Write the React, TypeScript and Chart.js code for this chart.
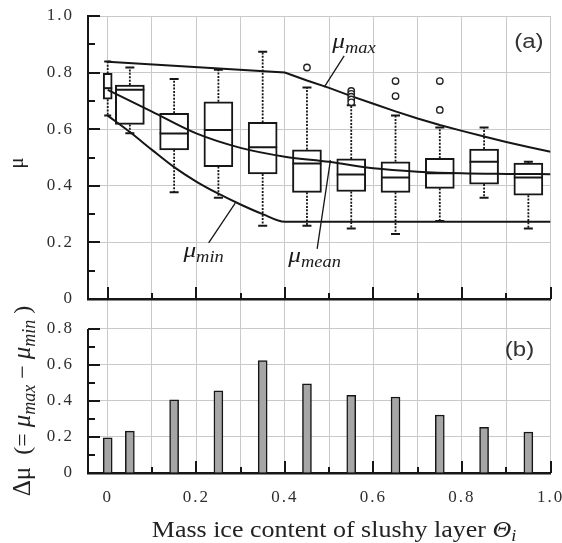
import React, { useEffect, useRef } from 'react';
import { Chart, registerables } from 'chart.js';
Chart.register(...registerables);

// ---------- data ----------
const boxX = [0, 0.05, 0.15, 0.25, 0.35, 0.45, 0.55, 0.65, 0.75, 0.85, 0.95];
const boxQ1 = [0.706, 0.617, 0.527, 0.468, 0.442, 0.377, 0.380, 0.377, 0.391, 0.406, 0.367];
const boxQ3 = [0.797, 0.756, 0.656, 0.697, 0.624, 0.527, 0.495, 0.485, 0.497, 0.530, 0.480];
const boxMedian = [0.745, 0.739, 0.585, 0.597, 0.536, 0.479, 0.440, 0.429, 0.444, 0.485, 0.429];
const whiskerLow = [0.648, 0.586, 0.377, 0.358, 0.259, 0.259, 0.249, 0.230, 0.276, 0.358, 0.249];
const whiskerHigh = [0.839, 0.818, 0.777, 0.810, 0.874, 0.747, 0.685, 0.648, 0.606, 0.606, 0.485];
const outlierX = [0.45, 0.55, 0.55, 0.55, 0.55, 0.55, 0.65, 0.65, 0.75, 0.75];
const outlierY = [0.818, 0.735, 0.725, 0.715, 0.705, 0.695, 0.770, 0.717, 0.770, 0.668];
const deltaMu = [0.196, 0.233, 0.406, 0.457, 0.624, 0.496, 0.431, 0.422, 0.322, 0.254, 0.228];

const muMaxX = [0, 0.4, 0.45, 0.5, 0.55, 0.6, 0.65, 0.7, 0.75, 0.8, 0.85, 0.9, 0.95, 1.0];
const muMaxY = [0.838, 0.800, 0.772, 0.746, 0.717, 0.690, 0.663, 0.638, 0.615, 0.594, 0.574, 0.555, 0.537, 0.520];
const muMinX = [0, 0.05, 0.1, 0.15, 0.2, 0.25, 0.3, 0.35, 0.4, 1.0];
const muMinY = [0.648, 0.590, 0.527, 0.466, 0.415, 0.372, 0.334, 0.300, 0.273, 0.273];
const muMeanX = [0, 0.1, 0.2, 0.3, 0.4, 0.5, 0.6, 0.7, 0.8, 0.9, 1.0];
const muMeanY = [0.739, 0.662, 0.585, 0.534, 0.503, 0.485, 0.462, 0.450, 0.444, 0.442, 0.441];

const xGridTicks = [0, 0.1, 0.2, 0.3, 0.4, 0.5, 0.6, 0.7, 0.8, 0.9, 1.0];
const topYTicks = [0, 0.2, 0.4, 0.6, 0.8, 1.0];
const topYMinorTicks = [0.1, 0.3, 0.5, 0.7, 0.9];
const botYTicks = [0, 0.2, 0.4, 0.6, 0.8];
const botYMinorTicks = [0.1, 0.3, 0.5, 0.7];

// ---------- style ----------
const SERIF = "'Liberation Serif', 'Times New Roman', serif";
const SANS = "'Liberation Sans', Arial, sans-serif";
const GRID = '#c9c9c9';
const INK = '#161616';
const LABEL = '#2e2e2e';
const X_MIN = -0.0445;

type Seg = { t: string; font: string; dy?: number };

function drawRich(ctx: CanvasRenderingContext2D, segs: Seg[], x: number, y: number,
  opts: { sx?: number; align?: 'left' | 'center'; rotate?: number; color?: string; baseline?: CanvasTextBaseline } = {}) {
  ctx.save();
  ctx.translate(x, y);
  if (opts.rotate) ctx.rotate(opts.rotate);
  ctx.scale(opts.sx ?? 1, 1);
  (ctx as any).letterSpacing = '0px';
  ctx.fillStyle = opts.color ?? '#222';
  ctx.textBaseline = opts.baseline ?? 'alphabetic';
  ctx.textAlign = 'left';
  const widths = segs.map(s => { ctx.font = s.font; return ctx.measureText(s.t).width; });
  const total = widths.reduce((a, b) => a + b, 0);
  let cx = opts.align === 'center' ? -total / 2 : 0;
  segs.forEach((s, i) => { ctx.font = s.font; ctx.fillText(s.t, cx, s.dy ?? 0); cx += widths[i]; });
  ctx.restore();
}

const muLabel = (sub: string): Seg[] => [
  { t: 'μ', font: `italic 22px ${SERIF}` },
  { t: sub, font: `italic 16px ${SERIF}`, dy: 5 },
];

const annotations = [
  { segs: muLabel('max'), x: 0.507, y: 0.887, l: [0.534, 0.859, 0.489, 0.749] },
  { segs: muLabel('min'), x: 0.171, y: 0.148, l: [0.228, 0.198, 0.288, 0.339] },
  { segs: muLabel('mean'), x: 0.408, y: 0.131, l: [0.473, 0.177, 0.503, 0.491] },
];

const fmt = (v: number) => (v === 0 ? '0' : v.toFixed(1));

function drawInwardTicks(chart: any, yMajor: number[], yMinor: number[]) {
  const { ctx, chartArea } = chart;
  const xs = chart.scales.x, ys = chart.scales.y;
  ctx.save();
  ctx.strokeStyle = INK;
  ctx.lineWidth = 2;
  ctx.beginPath();
  xGridTicks.forEach((v, i) => {
    const px = Math.round(xs.getPixelForValue(v));
    const len = i % 2 === 0 ? 12 : 6;
    ctx.moveTo(px, chartArea.bottom);
    ctx.lineTo(px, chartArea.bottom - len);
  });
  yMajor.forEach(v => {
    const py = Math.round(ys.getPixelForValue(v));
    ctx.moveTo(chartArea.left, py);
    ctx.lineTo(chartArea.left + 12, py);
  });
  yMinor.forEach(v => {
    const py = Math.round(ys.getPixelForValue(v));
    ctx.moveTo(chartArea.left, py);
    ctx.lineTo(chartArea.left + 7, py);
  });
  ctx.stroke();
  ctx.restore();
}

const boxWidth = (i: number) => (i === 0 ? 9 : 29);

const topPlugin = {
  id: 'topPanel',
  beforeDraw(chart: any) { chart.ctx.letterSpacing = '2px'; },
  beforeDatasetsDraw(chart: any) {
    const { ctx, chartArea } = chart;
    const xs = chart.scales.x, ys = chart.scales.y;
    ctx.save();
    ctx.beginPath();
    ctx.rect(chartArea.left, chartArea.top, chartArea.right - chartArea.left, chartArea.bottom - chartArea.top);
    ctx.clip();
    ctx.strokeStyle = INK;
    boxX.forEach((x, i) => {
      const px = xs.getPixelForValue(x);
      const capW = i === 0 ? 7 : 9;
      ctx.lineWidth = 1.8;
      ctx.setLineDash([2, 1.4]);
      ctx.beginPath();
      ctx.moveTo(px, ys.getPixelForValue(boxQ3[i]));
      ctx.lineTo(px, ys.getPixelForValue(whiskerHigh[i]));
      ctx.moveTo(px, ys.getPixelForValue(boxQ1[i]));
      ctx.lineTo(px, ys.getPixelForValue(whiskerLow[i]));
      ctx.stroke();
      ctx.setLineDash([]);
      ctx.lineWidth = 2;
      ctx.beginPath();
      [whiskerHigh[i], whiskerLow[i]].forEach(w => {
        const py = ys.getPixelForValue(w);
        ctx.moveTo(px - capW / 2, py);
        ctx.lineTo(px + capW / 2, py);
      });
      ctx.stroke();
    });
    ctx.restore();
  },
  afterDatasetDraw(chart: any, args: any) {
    if (args.index > 1) return;
    const { ctx } = chart;
    const xs = chart.scales.x, ys = chart.scales.y;
    const idxs = args.index === 0 ? [0] : boxX.map((_, i) => i).slice(1);
    ctx.save();
    ctx.strokeStyle = INK;
    ctx.lineWidth = 2;
    ctx.beginPath();
    idxs.forEach(i => {
      const px = xs.getPixelForValue(boxX[i]);
      const py = ys.getPixelForValue(boxMedian[i]);
      const w = boxWidth(i);
      ctx.moveTo(px - w / 2, py);
      ctx.lineTo(px + w / 2, py);
    });
    ctx.stroke();
    ctx.restore();
  },
  afterDraw(chart: any) {
    const { ctx } = chart;
    ctx.letterSpacing = '0px';
    drawInwardTicks(chart, topYTicks, topYMinorTicks);
    const xs = chart.scales.x, ys = chart.scales.y;
    ctx.save();
    ctx.strokeStyle = INK;
    ctx.lineWidth = 1.3;
    annotations.forEach(a => {
      ctx.beginPath();
      ctx.moveTo(xs.getPixelForValue(a.l[0]), ys.getPixelForValue(a.l[1]));
      ctx.lineTo(xs.getPixelForValue(a.l[2]), ys.getPixelForValue(a.l[3]));
      ctx.stroke();
    });
    ctx.restore();
    annotations.forEach(a => {
      drawRich(ctx, a.segs, xs.getPixelForValue(a.x), ys.getPixelForValue(a.y), { sx: 1.15, color: '#1a1a1a' });
    });
    drawRich(ctx, [{ t: '(a)', font: `20px ${SANS}` }], xs.getPixelForValue(0.951), ys.getPixelForValue(0.905),
      { sx: 1.2, align: 'center', baseline: 'middle', color: '#333' });
    drawRich(ctx, [{ t: 'μ', font: `21px ${SERIF}` }], 23, 163, { rotate: -Math.PI / 2, align: 'center', color: '#222' });
  },
};

const botPlugin = {
  id: 'botPanel',
  beforeDraw(chart: any) { chart.ctx.letterSpacing = '2px'; },
  beforeDatasetsDraw(chart: any) {
    const { ctx, chartArea } = chart;
    ctx.letterSpacing = '0px';
    const ys = chart.scales.y;
    ctx.save();
    ctx.strokeStyle = INK;
    ctx.lineWidth = 2;
    ctx.beginPath();
    ctx.moveTo(chartArea.left, ys.getPixelForValue(botYTicks[botYTicks.length - 1]));
    ctx.lineTo(chartArea.left, chartArea.bottom + 1);
    ctx.stroke();
    ctx.restore();
    drawInwardTicks(chart, botYTicks, botYMinorTicks);
  },
  afterDraw(chart: any) {
    const { ctx } = chart;
    ctx.letterSpacing = '0px';
    const ys = chart.scales.y, xs = chart.scales.x;
    drawRich(ctx, [{ t: '(b)', font: `20px ${SANS}` }], xs.getPixelForValue(0.93), ys.getPixelForValue(0.683),
      { sx: 1.2, align: 'center', baseline: 'middle', color: '#333' });
    drawRich(ctx, [
      { t: 'Mass ice content of slushy layer ', font: `23px ${SERIF}` },
      { t: 'Θ', font: `italic 23px ${SERIF}` },
      { t: 'i', font: `italic 16px ${SERIF}`, dy: 4 },
    ], 334, 237, { sx: 1.13, align: 'center', color: '#222' });
    drawRich(ctx, [
      { t: 'Δμ', font: `25px ${SERIF}` },
      { t: '  (= ', font: `24px ${SERIF}` },
      { t: 'μ', font: `italic 25px ${SERIF}` },
      { t: 'max', font: `italic 18px ${SERIF}`, dy: 5 },
      { t: ' − ', font: `24px ${SERIF}` },
      { t: 'μ', font: `italic 25px ${SERIF}` },
      { t: 'min', font: `italic 18px ${SERIF}`, dy: 5 },
      { t: ' )', font: `24px ${SERIF}` },
    ], 30, 101, { rotate: -Math.PI / 2, align: 'center', color: '#222' });
  },
};

const zeroPad = (s: any) => { s.paddingTop = 0; s.paddingBottom = 0; s.paddingLeft = 0; s.paddingRight = 0; };

function xScale(height: number, showLabels: boolean): any {
  return {
    type: 'linear', min: X_MIN, max: 1.0, offset: false,
    afterBuildTicks: (s: any) => { s.ticks = xGridTicks.map(v => ({ value: v })); },
    afterFit: (s: any) => { s.height = height; zeroPad(s); },
    ticks: showLabels ? {
      display: true, autoSkip: false, maxRotation: 0, font: { family: SERIF, size: 17 }, color: LABEL, padding: 14,
      callback: (v: number, i: number) => (i % 2 === 0 ? fmt(v) : ''),
    } : { display: false },
    grid: { color: GRID, lineWidth: 1, drawTicks: false, offset: false },
    border: { display: true, color: INK, width: 2.5 },
  };
}

function yScale(max: number, ticks: number[], border: boolean): any {
  return {
    type: 'linear', min: 0, max,
    afterBuildTicks: (s: any) => { s.ticks = ticks.map(v => ({ value: v })); },
    afterFit: (s: any) => { s.width = 88; zeroPad(s); },
    ticks: { font: { family: SERIF, size: 17 }, color: LABEL, padding: 14, callback: (v: number) => fmt(v) },
    grid: { color: GRID, lineWidth: 1, drawTicks: false },
    border: border ? { display: true, color: INK, width: 2 } : { display: false },
  };
}

function topConfig(): any {
  const boxStyle = { type: 'bar', backgroundColor: '#ffffff', borderColor: INK, borderWidth: 2, borderSkipped: false, grouped: false, order: 5 };
  return {
    type: 'bar',
    data: {
      datasets: [
        { ...boxStyle, barThickness: 9, data: [{ x: boxX[0], y: [boxQ1[0], boxQ3[0]] }] },
        { ...boxStyle, barThickness: 29, data: boxX.slice(1).map((x, i) => ({ x, y: [boxQ1[i + 1], boxQ3[i + 1]] })) },
        { type: 'line', data: muMaxX.map((x, i) => ({ x, y: muMaxY[i] })), borderColor: INK, borderWidth: 2, pointRadius: 0, tension: 0, order: 1 },
        { type: 'line', data: muMinX.map((x, i) => ({ x, y: muMinY[i] })), borderColor: INK, borderWidth: 2, pointRadius: 0, cubicInterpolationMode: 'monotone', order: 1 },
        { type: 'line', data: muMeanX.map((x, i) => ({ x, y: muMeanY[i] })), borderColor: INK, borderWidth: 2, pointRadius: 0, cubicInterpolationMode: 'monotone', order: 1 },
        { type: 'line', showLine: false, data: outlierX.map((x, i) => ({ x, y: outlierY[i] })), pointRadius: 3.2, pointBackgroundColor: '#ffffff', pointBorderColor: '#222', pointBorderWidth: 1.4, order: 0 },
      ],
    },
    options: {
      animation: false, responsive: false, devicePixelRatio: 1,
      layout: { autoPadding: false, padding: { left: 0, right: 11.5, top: 16, bottom: 0 } },
      plugins: { legend: { display: false }, tooltip: { enabled: false } },
      scales: { x: xScale(13, false), y: yScale(1.0, topYTicks, true) },
    },
    plugins: [topPlugin],
  };
}

function botConfig(): any {
  return {
    type: 'bar',
    data: {
      datasets: [
        { data: deltaMu.map((v, i) => ({ x: boxX[i], y: v })), barThickness: 9, backgroundColor: '#a6a6a6', borderColor: INK, borderWidth: 1.5, borderSkipped: 'start' },
      ],
    },
    options: {
      animation: false, responsive: false, devicePixelRatio: 1,
      layout: { autoPadding: false, padding: { left: 0, right: 11.5, top: 0, bottom: 0 } },
      plugins: { legend: { display: false }, tooltip: { enabled: false } },
      scales: { x: xScale(70, true), y: yScale(0.961, botYTicks, false) },
    },
    plugins: [botPlugin],
  };
}

export default function App() {
  const topRef = useRef<HTMLCanvasElement>(null);
  const botRef = useRef<HTMLCanvasElement>(null);
  useEffect(() => {
    const top = new Chart(topRef.current as HTMLCanvasElement, topConfig());
    const bot = new Chart(botRef.current as HTMLCanvasElement, botConfig());
    return () => { top.destroy(); bot.destroy(); };
  }, []);
  return (
    <div style={{ position: 'fixed', left: 0, top: 0, width: 562, height: 543, background: '#ffffff' }}>
      <canvas ref={botRef} width={562} height={243} style={{ position: 'absolute', left: 0, top: 300, width: 562, height: 243 }} />
      <canvas ref={topRef} width={562} height={312} style={{ position: 'absolute', left: 0, top: 0, width: 562, height: 312 }} />
    </div>
  );
}
